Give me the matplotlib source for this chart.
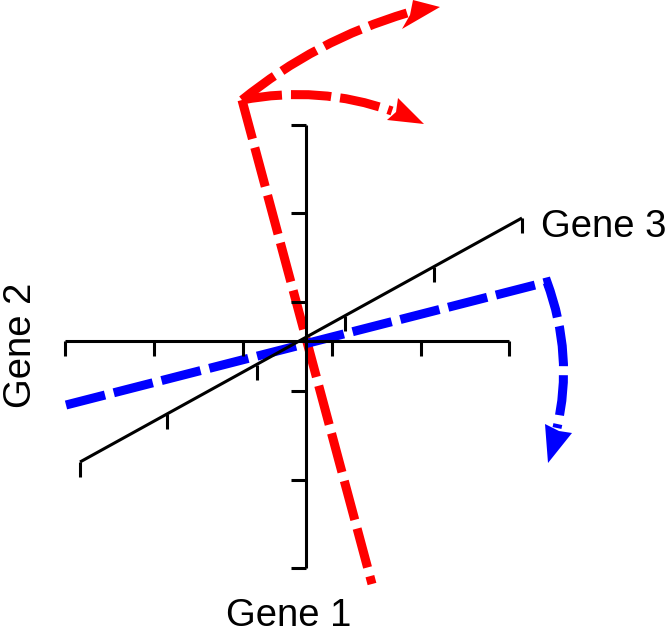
import numpy as np
import matplotlib.pyplot as plt
from matplotlib.path import Path
from matplotlib.patches import PathPatch, Polygon

plt.rcParams['font.family'] = ['Liberation Sans', 'DejaVu Sans']
plt.rcParams['lines.scale_dashes'] = False

# diagram coordinates, in picture pixels (y grows downwards)
gene1_ticks_x = [65, 154, 243, 332, 421, 509]
gene1_y = 341
gene2_ticks_y = [125, 213, 302, 391, 480, 568]
gene2_x = 306
gene3_ticks = [(80, 462), (167, 414), (257, 365), (345, 316), (434, 267), (522, 218)]
tick_len = 15

# red: first principal axis plus two rotation arrows
red_line = [(242, 100), (372, 584)]
red_arc_up = [(242, 100), (316, 40), (407, 13)]
red_arc_low = [(242, 100), (319, 85), (392, 111)]
red_head_up = [(440, 7), (413, 0), (410, 15), (402, 29)]
red_head_low = [(424, 124), (398, 98), (396, 112), (387, 120)]

# blue: second axis, bent into a rotation arrow
blue_line = [(66, 405), (547, 282)]
blue_arc = [(547, 282), (574, 355), (557, 428)]
blue_head = [(548, 463), (545, 424), (559, 431), (572, 433)]

labels = ['Gene 1', 'Gene 2', 'Gene 3']

fig = plt.figure(figsize=(6.7, 6.35), dpi=100)
ax = fig.add_axes([0, 0, 1, 1])
ax.set_xlim(0, 670)
ax.set_ylim(635, 0)
ax.axis('off')

blk = dict(color='black', lw=2.2, solid_capstyle='butt', solid_joinstyle='miter')

# gene 1 axis (horizontal)
ax.plot([gene1_ticks_x[0], gene1_ticks_x[-1]], [gene1_y, gene1_y], **blk)
for x in gene1_ticks_x:
    ax.plot([x, x], [gene1_y, gene1_y + tick_len], **blk)

# gene 2 axis (vertical)
ax.plot([gene2_x, gene2_x], [gene2_ticks_y[0], gene2_ticks_y[-1]], **blk)
for y in gene2_ticks_y:
    ax.plot([gene2_x - tick_len, gene2_x], [y, y], **blk)

# gene 3 axis (oblique)
g3 = np.array(gene3_ticks)
ax.plot(g3[[0, -1], 0], g3[[0, -1], 1], **blk)
for x, y in gene3_ticks:
    ax.plot([x, x], [y, y + tick_len], **blk)

dash = (0, (29, 6.5))


def dashed(points, codes, color):
    p = PathPatch(Path(points, codes), fill=False, edgecolor=color, lw=6.5,
                  linestyle=dash, capstyle='butt', joinstyle='miter')
    ax.add_patch(p)


dashed(red_line, [Path.MOVETO, Path.LINETO], 'red')
dashed(red_arc_up, [Path.MOVETO, Path.CURVE3, Path.CURVE3], 'red')
dashed(red_arc_low, [Path.MOVETO, Path.CURVE3, Path.CURVE3], 'red')
dashed(blue_line + blue_arc[1:],
       [Path.MOVETO, Path.LINETO, Path.CURVE3, Path.CURVE3], 'blue')

for head, c in [(red_head_up, 'red'), (red_head_low, 'red'), (blue_head, 'blue')]:
    ax.add_patch(Polygon(head, closed=True, facecolor=c, edgecolor='none'))

ax.text(226, 634, labels[0], fontsize=27.5, ha='left', va='bottom')
ax.text(31, 408, labels[1], fontsize=27.5, ha='left', va='baseline',
        rotation=90, rotation_mode='anchor')
ax.text(541, 237, labels[2], fontsize=27.5, ha='left', va='baseline')

fig.savefig('out.png', dpi=100)
